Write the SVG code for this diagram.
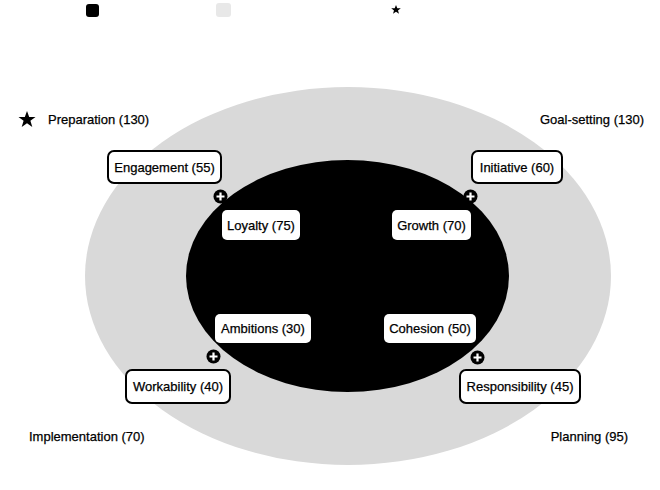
<svg xmlns="http://www.w3.org/2000/svg" width="660" height="490" viewBox="0 0 660 490">
<style>
text{font-family:"Liberation Sans",Arial,sans-serif;font-size:13px;fill:#000;stroke:#000;stroke-width:0.25}
.box{fill:#fff;stroke:#000;stroke-width:2}
.ibox{fill:#fff}
.plus{stroke:#fff;stroke-width:2.2;stroke-linecap:butt}
</style>
<defs>
<g id="plusIcon"><circle r="7" fill="#000"/><path class="plus" d="M-4 0H4M0 -4V4"/></g>
</defs>
<g id="legend">
<rect x="86" y="4" width="13" height="13" rx="3" fill="#000"/>
<rect x="216" y="3" width="15" height="14" rx="3" fill="#e8e8e8"/>
<polygon points="396,5 397.3,8.3 400.8,8.3 398,10.4 399,13.8 396,11.8 393,13.8 394,10.4 391.2,8.3 394.7,8.3" fill="#000"/>
</g>
<g id="outer"><ellipse cx="348" cy="276" rx="263" ry="189" fill="#d9d9d9"/></g>
<g id="inner"><ellipse cx="347.5" cy="276" rx="161.5" ry="116" fill="#000"/></g>
<g id="connectors">
<use href="#plusIcon" x="220.5" y="196.5"/>
<use href="#plusIcon" x="470.5" y="196.5"/>
<use href="#plusIcon" x="213.5" y="356.5"/>
<use href="#plusIcon" x="477.5" y="357.5"/>
</g>
<g id="preparation">
<polygon points="27,111 29.2,117 35.5,117 30.4,120.8 32.3,127 27,123.3 21.7,127 23.6,120.8 18.5,117 24.8,117" fill="#000"/>
<text x="48" y="124">Preparation (130)</text>
</g>
<g id="goal-setting"><text x="644" y="124" text-anchor="end">Goal-setting (130)</text></g>
<g id="implementation"><text x="29" y="441">Implementation (70)</text></g>
<g id="planning"><text x="628" y="441" text-anchor="end">Planning (95)</text></g>
<g id="engagement"><rect class="box" x="108" y="151" width="113" height="32" rx="6"/><text x="164.5" y="171.5" text-anchor="middle">Engagement (55)</text></g>
<g id="initiative"><rect class="box" x="472" y="151" width="90" height="32" rx="6"/><text x="517" y="171.5" text-anchor="middle">Initiative (60)</text></g>
<g id="workability"><rect class="box" x="126" y="370" width="104" height="33" rx="6"/><text x="178" y="391" text-anchor="middle">Workability (40)</text></g>
<g id="responsibility"><rect class="box" x="460" y="370" width="120" height="33" rx="6"/><text x="520" y="391" text-anchor="middle">Responsibility (45)</text></g>
<g id="loyalty"><rect class="ibox" x="222" y="210" width="78" height="30" rx="5"/><text x="261" y="229.5" text-anchor="middle">Loyalty (75)</text></g>
<g id="growth"><rect class="ibox" x="392" y="210" width="79" height="30" rx="5"/><text x="431.5" y="229.5" text-anchor="middle">Growth (70)</text></g>
<g id="ambitions"><rect class="ibox" x="215" y="314" width="96" height="29" rx="5"/><text x="263" y="333" text-anchor="middle">Ambitions (30)</text></g>
<g id="cohesion"><rect class="ibox" x="384" y="314" width="92" height="29" rx="5"/><text x="430" y="333" text-anchor="middle">Cohesion (50)</text></g>
</svg>
